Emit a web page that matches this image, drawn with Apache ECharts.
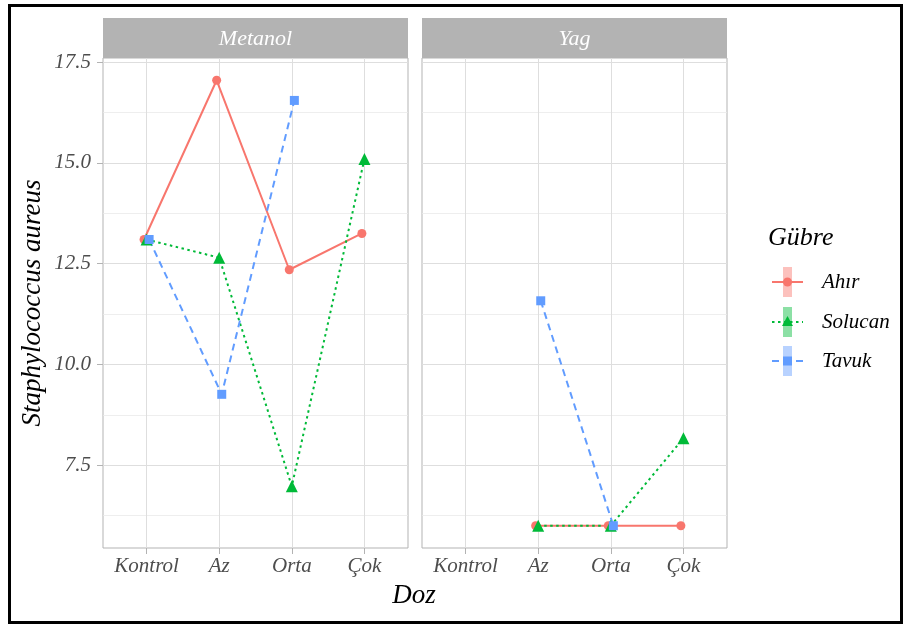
<!DOCTYPE html>
<html>
<head>
<meta charset="utf-8">
<script src="https://cdn.jsdelivr.net/npm/echarts@6/dist/echarts.min.js"></script>
<style>
html,body{margin:0;padding:0;background:#fff;}
#chart{width:906px;height:626px;}
</style>
</head>
<body>
<div id="chart"></div>
<script>
// ---- data ----
const doses = ['Kontrol', 'Az', 'Orta', 'Çok'];
const facets = ['Metanol', 'Yag'];
const groups = ['Ahır', 'Solucan', 'Tavuk'];
const yTicks = [7.5, 10.0, 12.5, 15.0, 17.5];
const yMinorTicks = [6.25, 8.75, 11.25, 13.75, 16.25];
// values per dose (Kontrol, Az, Orta, Çok); null = no observation
const metanolAhir    = [13.10, 17.05, 12.35, 13.25];
const metanolSolucan = [13.10, 12.65, 6.98, 15.10];
const metanolTavuk   = [13.10, 9.26, 16.55, null];
const yagAhir        = [null, 6.00, 6.00, 6.00];
const yagSolucan     = [null, 6.00, 6.00, 8.17];
const yagTavuk       = [null, 11.58, 6.00, null];

const panelData = [
  [metanolAhir, metanolSolucan, metanolTavuk],
  [yagAhir, yagSolucan, yagTavuk]
];

// ---- styles ----
const FONT = "'Liberation Serif', 'DejaVu Serif', serif";
const colors = ['#F8766D', '#00BA38', '#619CFF'];
const symbols = ['circle', 'triangle', 'rect'];
const symbolSizes = [9, 12, 9];
const dashes = ['solid', [2.5, 3.5], [7, 5]];
const dodge = [-0.035, 0, 0.035];
const Y_MIN = 5.4475, Y_MAX = 17.6025;
const X_MIN = -0.6, X_MAX = 3.6;
const panels = [{left: 103, width: 305}, {left: 422, width: 305}];
const PANEL_TOP = 58, PANEL_H = 490;
const xTickVals = doses.map((d, i) => i);

const grid = panels.map(p => ({
  left: p.left, top: PANEL_TOP, width: p.width, height: PANEL_H,
  show: true, borderColor: '#B3B3B3', borderWidth: 1, backgroundColor: 'transparent'
}));

const xAxis = panels.map((p, i) => ({
  type: 'value', gridIndex: i, min: X_MIN, max: X_MAX,
  axisLine: {show: false, onZero: false},
  axisTick: {show: true, customValues: xTickVals, length: 6, lineStyle: {color: '#B3B3B3', width: 1}},
  axisLabel: {
    customValues: xTickVals, formatter: v => doses[Math.round(v)],
    fontFamily: FONT, fontStyle: 'italic', fontSize: 21, color: '#4D4D4D', margin: 8
  },
  splitLine: {show: true, lineStyle: {color: '#DEDEDE', width: 1}}
}));

const yAxis = [];
panels.forEach((p, i) => {
  yAxis.push({
    type: 'value', gridIndex: i, min: Y_MIN, max: Y_MAX, position: 'left',
    axisLine: {show: false, onZero: false},
    axisTick: {show: i === 0, customValues: yTicks, length: 6, lineStyle: {color: '#B3B3B3', width: 1}},
    axisLabel: {
      show: i === 0, customValues: yTicks, formatter: v => v.toFixed(1),
      fontFamily: FONT, fontStyle: 'italic', fontSize: 21, color: '#4D4D4D', margin: 12
    },
    splitLine: {show: true, lineStyle: {color: '#DEDEDE', width: 1}}
  });
  yAxis.push({
    type: 'value', gridIndex: i, min: Y_MIN, max: Y_MAX, position: 'left',
    axisLine: {show: false, onZero: false},
    axisTick: {show: false, customValues: yMinorTicks},
    axisLabel: {show: false},
    splitLine: {show: true, lineStyle: {color: '#EAEAEA', width: 0.8}}
  });
});

const series = [];
panelData.forEach((groupVals, pi) => {
  groupVals.forEach((vals, gi) => {
    const data = [];
    vals.forEach((v, di) => { if (v !== null) data.push([di + dodge[gi], v]); });
    series.push({
      name: groups[gi] + ' ' + facets[pi],
      type: 'line', xAxisIndex: pi, yAxisIndex: pi * 2,
      data: data,
      symbol: symbols[gi], symbolSize: symbolSizes[gi], showSymbol: true,
      lineStyle: {color: colors[gi], width: 2, type: dashes[gi]},
      itemStyle: {color: colors[gi]},
      z: 3
    });
  });
});

// ---- decorations: frame, strips, axis titles, legend ----
const graphic = [];
graphic.push({type: 'rect', shape: {x: 9.5, y: 5.5, width: 892, height: 617},
  style: {fill: 'none', stroke: '#000', lineWidth: 3}, z: 100});
panels.forEach((p, i) => {
  graphic.push({type: 'rect', shape: {x: p.left, y: 18, width: p.width, height: PANEL_TOP - 18},
    style: {fill: '#B3B3B3'}, z: 1});
  graphic.push({type: 'text', x: p.left + p.width / 2, y: 39,
    style: {text: facets[i], fill: '#FFFFFF', font: 'italic 22px ' + FONT, textAlign: 'center', textVerticalAlign: 'middle'}, z: 2});
});
graphic.push({type: 'text', x: (panels[0].left + panels[1].left + panels[1].width) / 2 - 1, y: 596,
  style: {text: 'Doz', fill: '#000', font: 'italic 27px ' + FONT, textAlign: 'center', textVerticalAlign: 'middle'}});
graphic.push({type: 'text', x: 33, y: PANEL_TOP + PANEL_H / 2, rotation: Math.PI / 2,
  style: {text: 'Staphylococcus aureus', fill: '#000', font: 'italic 27px ' + FONT, textAlign: 'center', textVerticalAlign: 'middle'}});

// legend
graphic.push({type: 'text', x: 768, y: 238,
  style: {text: 'Gübre', fill: '#000', font: 'italic 26px ' + FONT, textAlign: 'left', textVerticalAlign: 'middle'}});
const legendY = [282, 322, 361];
groups.forEach((g, gi) => {
  const cy = legendY[gi], cx = 787.5;
  graphic.push({type: 'rect', shape: {x: cx - 4.5, y: cy - 15, width: 9, height: 30},
    style: {fill: colors[gi], opacity: 0.45}});
  graphic.push({type: 'line', shape: {x1: 772, y1: cy, x2: 803, y2: cy},
    style: {stroke: colors[gi], lineWidth: 2, lineDash: dashes[gi] === 'solid' ? null : dashes[gi]}});
  if (gi === 0) {
    graphic.push({type: 'circle', shape: {cx: cx, cy: cy, r: 4.5}, style: {fill: colors[gi]}});
  } else if (gi === 1) {
    graphic.push({type: 'polygon', shape: {points: [[cx, cy - 6], [cx - 5.5, cy + 4], [cx + 5.5, cy + 4]]}, style: {fill: colors[gi]}});
  } else {
    graphic.push({type: 'rect', shape: {x: cx - 4.5, y: cy - 4.5, width: 9, height: 9}, style: {fill: colors[gi]}});
  }
  graphic.push({type: 'text', x: 822, y: cy,
    style: {text: g, fill: '#000', font: 'italic 21px ' + FONT, textAlign: 'left', textVerticalAlign: 'middle'}});
});

const chart = echarts.init(document.getElementById('chart'), null, {renderer: 'canvas'});
chart.setOption({
  backgroundColor: '#FFFFFF',
  animation: false,
  grid: grid, xAxis: xAxis, yAxis: yAxis, series: series, graphic: graphic
});
</script>
</body>
</html>
